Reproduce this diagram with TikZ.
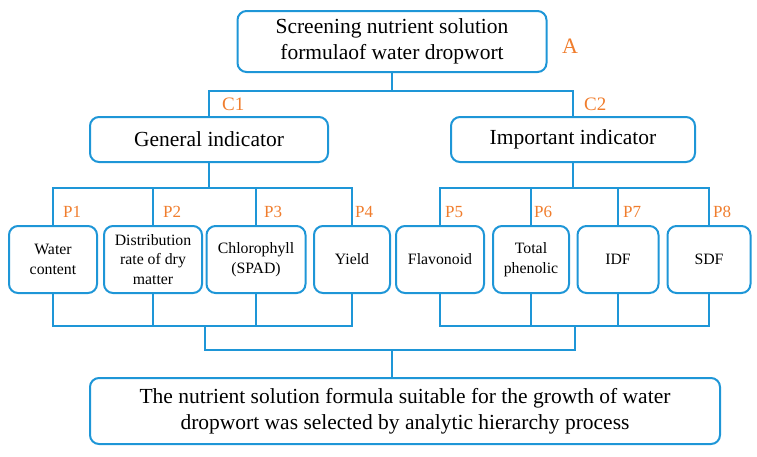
\documentclass[tikz,border=0pt]{standalone}
\usepackage{fontspec}
\setmainfont{Liberation Serif}
\definecolor{lineblue}{RGB}{30,150,215}
\definecolor{labelorange}{RGB}{240,125,45}
\begin{document}
\begin{tikzpicture}[x=1pt,y=-1pt,
  box/.style={draw=lineblue,line width=2pt,rounded corners=9pt,align=center,inner sep=0pt},
  link/.style={draw=lineblue,line width=1.6pt},
  lab/.style={text=labelorange,anchor=west,inner sep=0pt},
  big/.style={font=\fontsize{21.5}{26}\selectfont},
  small/.style={font=\fontsize{15.8}{19.5}\selectfont}]
\useasboundingbox (0,0) rectangle (757,456);
% top node
\node[box,big,minimum width=309pt,minimum height=61pt] (A) at (392,41.5) {Screening nutrient solution\\formulaof water dropwort};
\node[lab,font=\fontsize{22}{22}\selectfont] (LA) at (562,46) {A};
% criteria
\node[box,big,minimum width=238pt,minimum height=45pt] (C1) at (209,139.5) {General indicator};
\node[box,big,minimum width=244pt,minimum height=45pt] (C2) at (573,139.5) {Important indicator};
\node[lab,font=\fontsize{19}{19}\selectfont] (LC1) at (222,104) {C1};
\node[lab,font=\fontsize{19}{19}\selectfont] (LC2) at (584,104) {C2};
% indicators
\node[box,small,minimum width=88pt,minimum height=67pt] (P1) at (53,259.5) {Water\\content};
\node[box,small,minimum width=98pt,minimum height=67pt] (P2) at (153,259.5) {Distribution\\rate of dry\\matter};
\node[box,small,minimum width=99pt,minimum height=67pt] (P3) at (256,259.5) {Chlorophyll\\(SPAD)};
\node[box,small,minimum width=76pt,minimum height=67pt] (P4) at (352,259.5) {Yield};
\node[box,small,minimum width=88pt,minimum height=67pt] (P5) at (440,259.5) {Flavonoid};
\node[box,small,minimum width=76pt,minimum height=67pt] (P6) at (531,259.5) {Total\\phenolic};
\node[box,small,minimum width=81pt,minimum height=67pt] (P7) at (618,259.5) {IDF};
\node[box,small,minimum width=83pt,minimum height=67pt] (P8) at (709,259.5) {SDF};
\foreach \i/\x in {1/63,2/163,3/264,4/355,5/445,6/534,7/623,8/713}
  \node[lab,font=\fontsize{17}{17}\selectfont] (LP\i) at (\x,212) {P\i};
% bottom node
\node[box,big,minimum width=630pt,minimum height=66pt] (D) at (405,411) {The nutrient solution formula suitable for the growth of water\\dropwort was selected by analytic hierarchy process};
% connectors
\coordinate (a1) at (392,91);
\coordinate (b1) at (209,188);
\coordinate (b2) at (573,188);
\coordinate (d1) at (205,326);
\coordinate (d2) at (575,326);
\coordinate (e1) at (392,350);
\path[link] (A.south) -- (a1);
\path[link] (C1.north) |- (a1) -| (C2.north);
\path[link] (C1.south) -- (b1);
\path[link] (C2.south) -- (b2);
\path[link] (P1.north) |- (b1) -| (P4.north);
\path[link] (P2.north) -- (P2.north |- b1);
\path[link] (P3.north) -- (P3.north |- b1);
\path[link] (P5.north) |- (b2) -| (P8.north);
\path[link] (P6.north) -- (P6.north |- b2);
\path[link] (P7.north) -- (P7.north |- b2);
\path[link] (P1.south) |- (d1) -| (P4.south);
\path[link] (P2.south) -- (P2.south |- d1);
\path[link] (P3.south) -- (P3.south |- d1);
\path[link] (P5.south) |- (d2) -| (P8.south);
\path[link] (P6.south) -- (P6.south |- d2);
\path[link] (P7.south) -- (P7.south |- d2);
\path[link] (d1) |- (e1) -| (d2);
\path[link] (e1) -- (e1 |- D.north);
\end{tikzpicture}
\end{document}
